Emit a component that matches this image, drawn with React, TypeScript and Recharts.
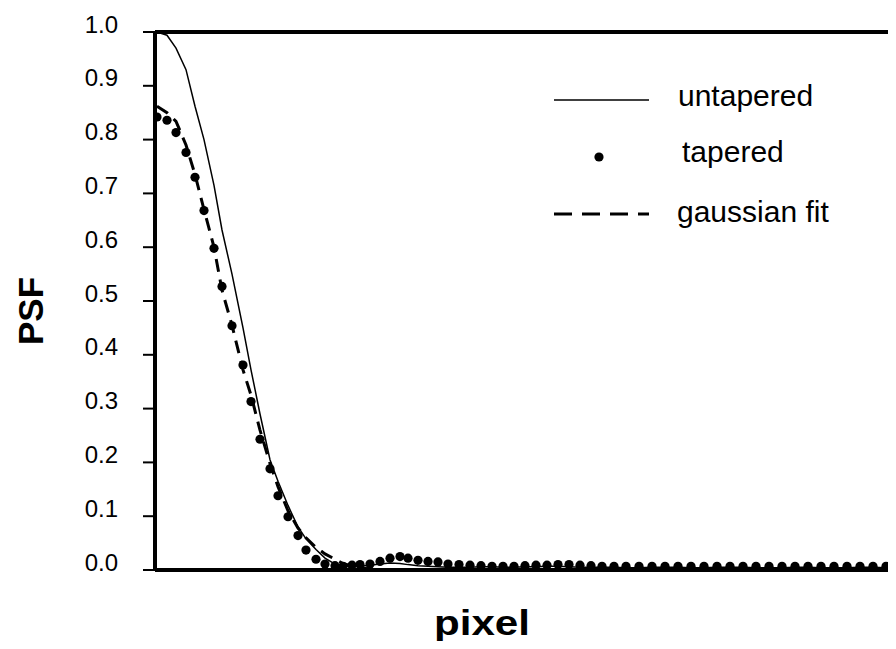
import React from 'react';
import {
    ComposedChart,
    Line,
    Scatter,
    XAxis,
    YAxis,
    ReferenceLine,
    Legend,
} from 'recharts';

const FONT = '"Liberation Sans", Arial, Helvetica, sans-serif';

// sample positions shared by all three curves (in tenths of a pixel)
const pixelPos = [
    0.2, 1.2, 2.1, 3.1, 4.0, 4.9, 5.9, 6.7, 7.7, 8.8,
    9.6, 10.5, 11.5, 12.3, 13.3, 14.3, 15.1, 16.1, 17.0, 18.0,
    18.8, 19.7, 20.5, 21.5, 22.5, 23.5, 24.5, 25.3, 26.3, 27.3,
    28.3, 29.3, 30.4, 31.5, 32.6, 33.7, 34.8, 35.9, 37.0, 38.1,
    39.2, 40.3, 41.4, 42.5, 43.6, 44.7, 45.9, 47.1, 48.4, 49.7,
    51.0, 52.3, 53.6, 54.9, 56.2, 57.5, 58.8, 60.1, 61.4, 62.7,
    64.0, 65.3, 66.6, 67.9, 69.2, 70.5, 71.8, 73.1, 74.4,
];

const untaperedPsf = [
    1.0, 0.994, 0.97, 0.93, 0.862, 0.8, 0.715, 0.632, 0.55, 0.45,
    0.372, 0.29, 0.205, 0.165, 0.12, 0.08, 0.058, 0.038, 0.022, 0.011,
    0.007, 0.006, 0.007, 0.009, 0.011, 0.013, 0.012, 0.01, 0.008, 0.007,
    0.006, 0.005, 0.005, 0.005, 0.006, 0.006, 0.005, 0.005, 0.006, 0.006,
    0.007, 0.007, 0.006, 0.005, 0.005, 0.005, 0.005, 0.004, 0.004, 0.005,
    0.005, 0.005, 0.004, 0.004, 0.005, 0.005, 0.005, 0.004, 0.004, 0.004,
    0.005, 0.005, 0.004, 0.004, 0.004, 0.005, 0.005, 0.004, 0.004,
];

const taperedPsf = [
    0.842, 0.836, 0.813, 0.776, 0.73, 0.668, 0.598, 0.527, 0.454, 0.381,
    0.313, 0.243, 0.188, 0.138, 0.099, 0.064, 0.037, 0.02, 0.011, 0.008,
    0.007, 0.009, 0.01, 0.011, 0.016, 0.022, 0.025, 0.022, 0.018, 0.016,
    0.015, 0.011, 0.01, 0.009, 0.008, 0.007, 0.007, 0.007, 0.008, 0.009,
    0.009, 0.01, 0.01, 0.009, 0.008, 0.007, 0.007, 0.007, 0.007, 0.007,
    0.007, 0.007, 0.007, 0.007, 0.007, 0.007, 0.007, 0.007, 0.007, 0.007,
    0.007, 0.007, 0.007, 0.007, 0.007, 0.007, 0.007, 0.007, 0.007,
];

const gaussianPsf = [
    0.862, 0.85, 0.834, 0.79, 0.735, 0.67, 0.6, 0.52, 0.455, 0.372,
    0.325, 0.26, 0.198, 0.155, 0.11, 0.078, 0.06, 0.042, 0.03, 0.02,
    0.012, 0.007, 0.004, 0.002, 0.001, 0.001, 0.0, 0.0, 0.0, 0.0,
    0.0, 0.0, 0.0, 0.0, 0.0, 0.0, 0.0, 0.0, 0.0, 0.0,
    0.0, 0.0, 0.0, 0.0, 0.0, 0.0, 0.0, 0.0, 0.0, 0.0,
    0.0, 0.0, 0.0, 0.0, 0.0, 0.0, 0.0, 0.0, 0.0, 0.0,
    0.0, 0.0, 0.0, 0.0, 0.0, 0.0, 0.0, 0.0, 0.0,
];

const yTicks = [0, 0.1, 0.2, 0.3, 0.4, 0.5, 0.6, 0.7, 0.8, 0.9, 1.0];

const toSeries = (values: number[]) => pixelPos.map((x, i) => ({ x, y: values[i] }));

const untapered = toSeries(untaperedPsf);
const tapered = toSeries(taperedPsf);
const gaussian = toSeries(gaussianPsf);

const YTick = (props: any) => {
    const { x, y, payload } = props;
    return (
        <text
            x={x}
            y={y - 8}
            textAnchor="end"
            dominantBaseline="central"
            fontFamily={FONT}
            fontSize={24}
            fill="#000"
        >
            {Number(payload.value).toFixed(1)}
        </text>
    );
};

const YTitle = (props: any) => {
    const { x, y, height } = props.viewBox;
    const cx = x + 22;
    const cy = y + height / 2 + 10;
    return (
        <text
            x={cx}
            y={cy}
            transform={`rotate(-90, ${cx}, ${cy})`}
            textAnchor="middle"
            dominantBaseline="central"
            fontFamily={FONT}
            fontWeight="bold"
            fontSize={35}
            fill="#000"
        >
            PSF
        </text>
    );
};

const XTitle = (props: any) => {
    const { x, y } = props.viewBox;
    return (
        <text
            x={x + 327}
            y={y + 65}
            textAnchor="middle"
            textLength={96}
            lengthAdjust="spacingAndGlyphs"
            fontFamily={FONT}
            fontWeight="bold"
            fontSize={35}
            fill="#000"
        >
            pixel
        </text>
    );
};

const Dot = (props: any) => <circle cx={props.cx} cy={props.cy} r={4.6} fill="#000" />;

const LegendBox = () => (
    <svg width={320} height={170} style={{ display: 'block' }}>
        <line x1={14} y1={30} x2={109} y2={30} stroke="#000" strokeWidth={1.5} />
        <text x={138} y={36} fontFamily={FONT} fontSize={30} fill="#000">
            untapered
        </text>
        <circle cx={59} cy={87} r={4.6} fill="#000" />
        <text x={142} y={92} fontFamily={FONT} fontSize={30} fill="#000">
            tapered
        </text>
        <line
            x1={14}
            y1={144}
            x2={109}
            y2={144}
            stroke="#000"
            strokeWidth={3}
            strokeDasharray="18 10"
        />
        <text x={137} y={152} fontFamily={FONT} fontSize={30} fill="#000">
            gaussian fit
        </text>
    </svg>
);

export default function App() {
    return (
        // the plot runs on past the right edge, so the frame clips it
        <div style={{ width: 888, height: 641, marginBottom: -8, overflow: 'hidden' }}>
            <ComposedChart width={900} height={641} margin={{ top: 24, right: 0, bottom: 0, left: 0 }}>
                <XAxis
                    type="number"
                    dataKey="x"
                    domain={[0, 75.3]}
                    allowDataOverflow
                    tick={false}
                    tickLine={false}
                    axisLine={{ stroke: '#000', strokeWidth: 4 }}
                    height={79}
                    label={<XTitle />}
                />
                <YAxis
                    type="number"
                    domain={[0, 1]}
                    allowDataOverflow
                    ticks={yTicks}
                    width={147}
                    tickSize={12}
                    tickMargin={25}
                    tickLine={{ stroke: '#000', strokeWidth: 2 }}
                    axisLine={{ stroke: '#000', strokeWidth: 4 }}
                    tick={<YTick />}
                    label={<YTitle />}
                />
                <ReferenceLine y={1} stroke="#000" strokeWidth={4} />
                <Line
                    data={untapered}
                    dataKey="y"
                    type="linear"
                    stroke="#000"
                    strokeWidth={1.5}
                    dot={false}
                    isAnimationActive={false}
                />
                <Line
                    data={gaussian}
                    dataKey="y"
                    type="linear"
                    stroke="#000"
                    strokeWidth={3}
                    strokeDasharray="13 8"
                    dot={false}
                    isAnimationActive={false}
                />
                <Scatter data={tapered} dataKey="y" fill="#000" shape={<Dot />} isAnimationActive={false} />
                <Legend
                    verticalAlign="middle"
                    align="center"
                    content={<LegendBox />}
                    wrapperStyle={{ left: 532, top: 62, width: 320, height: 170 }}
                />
            </ComposedChart>
        </div>
    );
}
